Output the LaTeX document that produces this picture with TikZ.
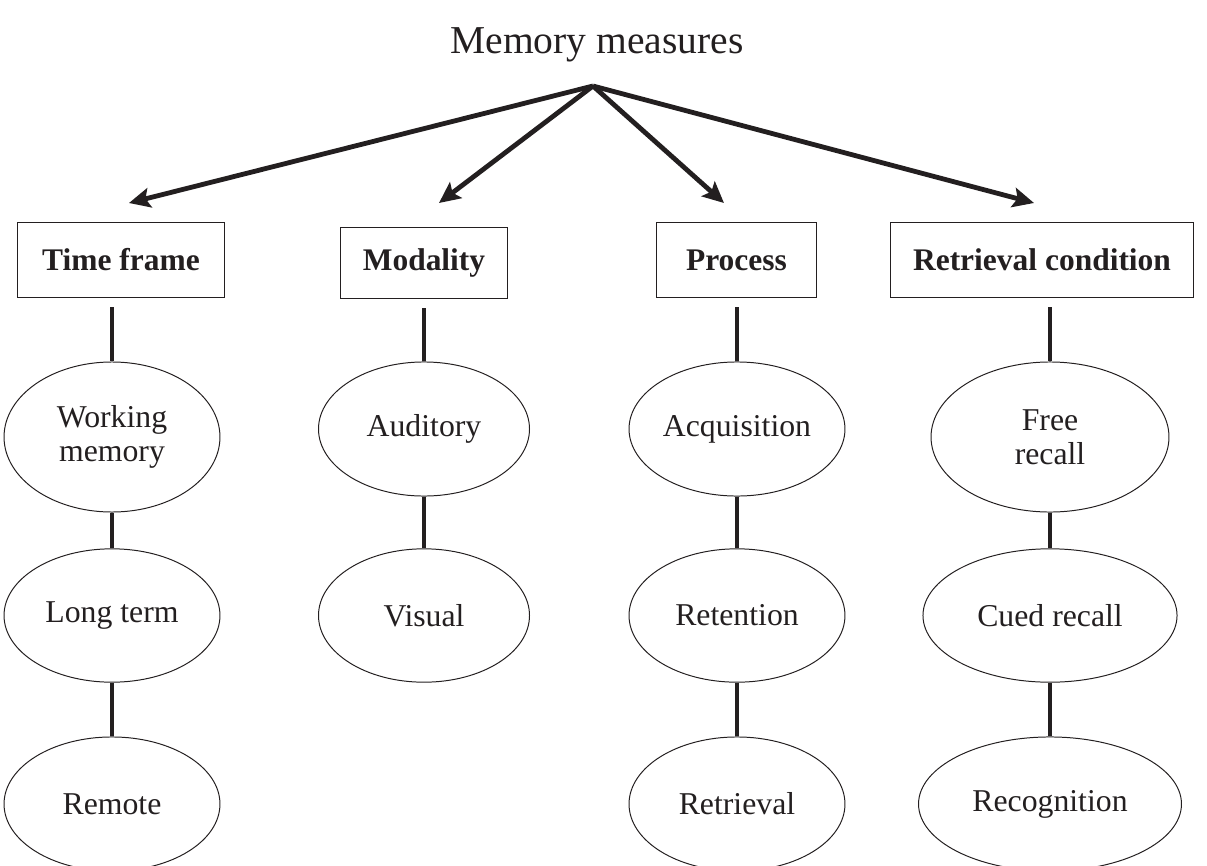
\documentclass[tikz,border=0pt]{standalone}
\usepackage{fontspec}
\setmainfont{Liberation Serif}
\usepackage{xcolor}
\usetikzlibrary{arrows.meta,shapes.geometric}
\definecolor{ink}{RGB}{35,31,32}
\tikzset{
    measure/.style={draw=ink, line width=0.7pt, inner sep=0pt, text=ink,
        font=\fontsize{22.3}{26}\selectfont\bfseries},
    kind/.style={ellipse, draw=ink, line width=0.7pt, inner sep=0pt, align=center,
        text=ink, font=\fontsize{22.5}{24}\selectfont},
    edge/.style={-{Stealth[length=15pt,width=14pt,inset=3pt]}, draw=ink, line width=3.4pt},
    link/.style={draw=ink, line width=2.2pt}
    }

\begin{document}
\begin{tikzpicture}[x=0.7085pt, y=-0.7085pt]
        \clip (0,0) rectangle (1207,865);

        % title
        \node[text=ink, font=\fontsize{28}{30}\selectfont] (title) at (597,45) {Memory measures};

        % measures
        \node[measure, minimum width=146pt, minimum height=53.8pt] (time) at (121,260) {Time frame};
        \node[measure, minimum width=119pt, minimum height=50.3pt] (mod) at (424,262.5) {Modality};
        \node[measure, minimum width=114pt, minimum height=53.8pt] (proc) at (736.5,260) {Process};
        \node[measure, minimum width=214pt, minimum height=53.8pt] (cond) at (1042,260) {Retrieval condition};

        % kinds
        \node[kind, minimum width=153pt, minimum height=106.3pt] (wm) at (112,437) {Working\\memory};
        \node[kind, minimum width=153pt, minimum height=94.5pt] (lt) at (112,615.5) {Long term};
        \node[kind, minimum width=153pt, minimum height=95pt] (rem) at (112,804) {Remote};

        \node[kind, minimum width=149.5pt, minimum height=95pt] (aud) at (424,429) {Auditory};
        \node[kind, minimum width=149.5pt, minimum height=94.5pt] (vis) at (424,615.5) {Visual};

        \node[kind, minimum width=153pt, minimum height=95pt] (acq) at (737,429) {Acquisition};
        \node[kind, minimum width=153pt, minimum height=94.5pt] (ret) at (737,615.5) {Retention};
        \node[kind, minimum width=153pt, minimum height=95pt] (rtr) at (737,804) {Retrieval};

        \node[kind, minimum width=168.6pt, minimum height=106.3pt] (free) at (1050,437) {Free\\recall};
        \node[kind, minimum width=180pt, minimum height=94.5pt] (cued) at (1050,615.5) {Cued recall};
        \node[kind, minimum width=186.3pt, minimum height=95pt] (recog) at (1050,804) {Recognition};

        % arrows
        \coordinate (hub) at (593,86);
        \coordinate (tip1) at (129,203);
        \coordinate (tip2) at (439,203);
        \coordinate (tip3) at (724,203);
        \coordinate (tip4) at (1034,203);
        \draw[edge] (hub) -- (tip1);
        \draw[edge] (hub) -- (tip2);
        \draw[edge] (hub) -- (tip3);
        \draw[edge] (hub) -- (tip4);

        % links
        \draw[link, shorten >=6.4pt] (wm) -- (wm |- time.south);
        \draw[link] (wm) -- (lt);
        \draw[link] (lt) -- (rem);
        \draw[link, shorten >=6.4pt] (aud) -- (aud |- mod.south);
        \draw[link] (aud) -- (vis);
        \draw[link, shorten >=6.4pt] (acq) -- (acq |- proc.south);
        \draw[link] (acq) -- (ret);
        \draw[link] (ret) -- (rtr);
        \draw[link, shorten >=6.4pt] (free) -- (free |- cond.south);
        \draw[link] (free) -- (cued);
        \draw[link] (cued) -- (recog);
    \end{tikzpicture}
\end{document}
